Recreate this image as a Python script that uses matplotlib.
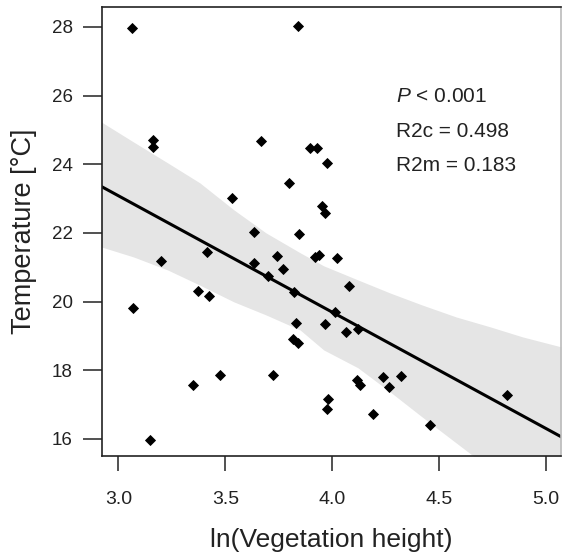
import numpy as np
import matplotlib
matplotlib.use('Agg')
import matplotlib.pyplot as plt

plt.rcParams['font.family'] = ['Liberation Sans', 'DejaVu Sans']
plt.rcParams['mathtext.fontset'] = 'custom'
plt.rcParams['mathtext.rm'] = 'Liberation Sans'
plt.rcParams['mathtext.it'] = 'Liberation Sans:italic'

veg_height = [3.063, 3.84, 3.161, 3.161, 3.666, 3.896, 3.929, 3.975, 3.80, 3.531,
              3.95, 3.966, 3.634, 3.845, 3.414, 3.199, 3.634, 3.741, 3.92, 3.94,
              4.022, 3.769, 3.699, 4.078, 3.372, 3.423, 3.82, 3.068, 4.013, 3.83,
              3.966, 4.12, 4.064, 3.817, 3.84, 3.475, 3.723, 3.348, 4.115, 4.13,
              4.237, 4.321, 4.265, 4.817, 3.98, 3.975, 4.19, 4.457, 3.147]
temperature = [27.97, 28.03, 24.71, 24.50, 24.68, 24.48, 24.48, 24.04, 23.46, 23.02,
               22.79, 22.58, 22.03, 21.97, 21.45, 21.18, 21.13, 21.33, 21.30, 21.36,
               21.27, 20.95, 20.75, 20.46, 20.31, 20.16, 20.28, 19.82, 19.70, 19.38,
               19.35, 19.20, 19.12, 18.91, 18.80, 17.86, 17.86, 17.57, 17.72, 17.57,
               17.80, 17.83, 17.51, 17.28, 17.16, 16.87, 16.73, 16.41, 15.97]

# fitted line (intercept, slope)
fit_intercept = 33.25
fit_slope = -3.39

# confidence band edges
band_x = [2.92, 3.07, 3.23, 3.38, 3.54, 3.69, 3.85, 3.96, 4.12, 4.27, 4.42, 4.58, 4.74, 4.89, 5.07]
band_upper = [25.23, 24.65, 24.04, 23.46, 22.67, 22.00, 21.42, 21.04, 20.63, 20.25,
              19.90, 19.55, 19.26, 18.97, 18.68]
band_lower = [21.59, 21.30, 20.92, 20.48, 19.99, 19.61, 19.17, 18.59, 18.07, 17.37,
              16.64, 15.88, 15.12, 14.37, 13.52]

stats_text = [r'$\it{P}$ < 0.001', 'R2c = 0.498', 'R2m = 0.183']
stats_y = [25.82, 24.79, 23.81]

x_ticks = [3.0, 3.5, 4.0, 4.5, 5.0]
y_ticks = [16, 18, 20, 22, 24, 26, 28]

fig = plt.figure(figsize=(5.63, 5.54), dpi=100)
ax = fig.add_axes([102 / 563, 1 - 456 / 554, 459 / 563, 449 / 554])

ax.fill_between(band_x, band_lower, band_upper, color='#e5e5e5', linewidth=0, zorder=1)
line_x = np.array([band_x[0], band_x[-1]])
ax.plot(line_x, fit_intercept + fit_slope * line_x, color='black', lw=2.2, zorder=2)
ax.plot(veg_height, temperature, linestyle='none', marker='D', markersize=5,
        color='black', markeredgewidth=0.6, zorder=3)

for txt, ty in zip(stats_text, stats_y):
    ax.text(4.298, ty, txt, fontsize=15, va='baseline', ha='left', color='#222222')

ax.set_xlim(2.923, 5.07)
ax.set_ylim(15.5, 28.58)
ax.set_xticks(x_ticks)
ax.set_xticklabels(['%.1f' % t for t in x_ticks])
ax.set_yticks(y_ticks)

for s in ax.spines.values():
    s.set_linewidth(1.2)
    s.set_color('#222222')
ax.spines['right'].set_color('#bbbbbb')

ax.tick_params(axis='x', direction='out', length=11, width=1.1, pad=14, labelsize=14,
               colors='#222222')
ax.tick_params(axis='y', direction='out', length=14, width=1.1, pad=7, labelsize=13.5,
               colors='#222222')

ax.set_xlabel('ln(Vegetation height)', fontsize=19, color='#222222')
ax.set_ylabel('Temperature [°C]', fontsize=19.5, color='#222222')
ax.xaxis.label.set_va('center')
ax.yaxis.label.set_va('center')
ax.xaxis.set_label_coords(0.5, (456 - 540) / 449)
ax.yaxis.set_label_coords((24 - 102) / 459, 0.5)

fig.savefig('out.png', dpi=100)
